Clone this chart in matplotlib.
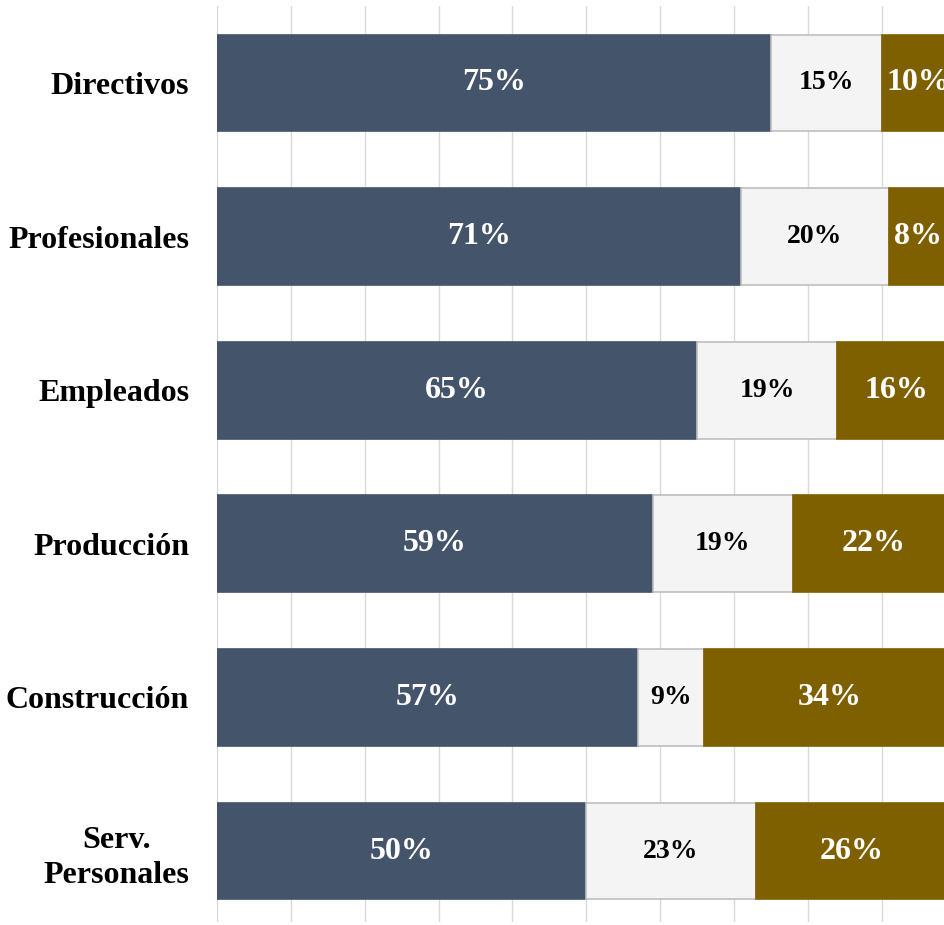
import matplotlib
matplotlib.use("Agg")
import matplotlib.pyplot as plt
import numpy as np

categorias = ["Directivos", "Profesionales", "Empleados", "Producción",
              "Construcción", "Serv.\nPersonales"]
serie_a = [75, 71, 65, 59, 57, 50]
serie_b = [15, 20, 19, 19, 9, 23]
serie_c = [10, 8, 16, 22, 34, 26]

colores = ["#44546A", "#F4F4F4", "#7F6000"]
colores_txt = ["white", "black", "white"]
tam_txt = [23, 20, 23]

plt.rcParams["font.family"] = ["Liberation Serif", "DejaVu Serif"]

fig = plt.figure(figsize=(9.45, 9.25), dpi=100)
ax = fig.add_axes([217 / 945, 3 / 925, 1 - 217 / 945, 916 / 925])

y = np.arange(len(categorias))
izq = np.zeros(len(categorias))
for i, serie in enumerate([serie_a, serie_b, serie_c]):
    vals = np.array(serie) / 100
    ec = "#BFBFBF" if i == 1 else colores[i]
    ax.barh(y, vals, left=izq, height=0.63, color=colores[i],
            edgecolor=ec, linewidth=1.2, zorder=3)
    for yy, l, v in zip(y, izq, vals):
        # the last label of the top row runs past the right edge, as in the original
        ax.text(l + v / 2, yy, f"{int(round(v * 100))}%", ha="center", va="center",
                color=colores_txt[i], fontsize=tam_txt[i], fontweight="bold",
                zorder=4, clip_on=False)
    izq += vals

ax.set_xlim(0, 0.986)
ax.set_ylim(5.462, -0.501)
ax.set_xticks(np.arange(0, 1.0, 0.1))
ax.xaxis.grid(True, color="#D9D9D9", linewidth=1, zorder=0)
ax.tick_params(axis="x", length=0, labelbottom=False)
ax.tick_params(axis="y", length=0, pad=20)
ax.set_yticks(y)
ax.set_yticklabels(categorias, fontsize=23, fontweight="bold",
                   multialignment="center", linespacing=1.3)
for s in ax.spines.values():
    s.set_visible(False)

fig.savefig("out.png", dpi=100)
